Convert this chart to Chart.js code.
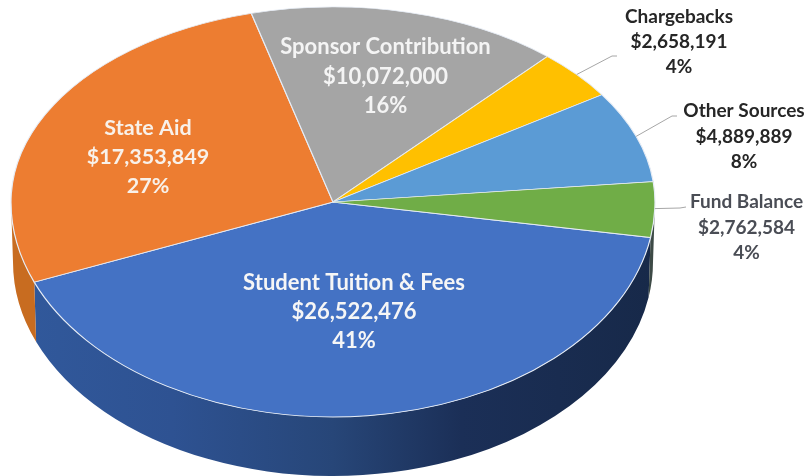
<!DOCTYPE html>
<html>
<head>
<meta charset="utf-8">
<title>Revenue sources</title>
<script src="https://cdn.jsdelivr.net/npm/chart.js@4"></script>
<style>
    html, body { margin: 0; padding: 0; background: #fff; overflow: hidden; }
    canvas { display: block; }
</style>
</head>
<body>
<canvas id="myChart" width="807" height="476"></canvas>
<script>
const categories = ["Student Tuition & Fees", "State Aid", "Sponsor Contribution", "Chargebacks", "Other Sources", "Fund Balance"];
const amounts = [26522476, 17353849, 10072000, 2658191, 4889889, 2762584];
const percentLabels = ["41%", "27%", "16%", "4%", "8%", "4%"];
const colors = ["#4472c4", "#ed7d31", "#a5a5a5", "#ffc000", "#5b9bd5", "#70ad47"];

// label layout: centre x, first line y, line gap, font px, colour, leader end
const labelLayout = [
    { x: 354, y: 283, gap: 29, size: 22, color: "#f6f6f6" },
    { x: 148, y: 128, gap: 29, size: 21.5, color: "#f8f1ea" },
    { x: 385.5, y: 47, gap: 29.5, size: 22, color: "#f4f4f4" },
    { x: 679, y: 17, gap: 25, size: 19, color: "#262626", leader: [[612, 56], [617, 56]] },
    { x: 744, y: 111, gap: 25.5, size: 19, color: "#262626", leader: [[672, 116], [677, 116]] },
    { x: 746.5, y: 202, gap: 25.5, size: 19, color: "#4a4d55", leader: [[680, 208], [686, 207]] },
];

// pie is drawn squashed: apex, radii of top half and bottom half, rim depth
const pie3d = { cx: 333, cy: 202, rx: 322, ryTop: 195, ryBottom: 215, depth: 60, rxLow: 320, ryLow: 214 };

function sideFill(ctx, index) {
    const g = ctx.createLinearGradient(pie3d.cx - pie3d.rx, 0, pie3d.cx + pie3d.rx, 0);
    if (index === 0) {
        g.addColorStop(0, "#31599c");
        g.addColorStop(0.25, "#2e5292");
        g.addColorStop(0.5, "#274678");
        g.addColorStop(0.7, "#1b2f57");
        g.addColorStop(1, "#172949");
        return g;
    }
    if (index === 1) return "#c86c20";
    return "#3d4a46";
}

const pie3dPlugin = {
    id: "pie3d",
    beforeDatasetsDraw(chart) {
        const ctx = chart.ctx;
        const arcs = chart.getDatasetMeta(0).data;
        const p = pie3d;

        // rim, only the part that faces the viewer
        arcs.forEach((arc, i) => {
            for (let k = -1; k <= 1; k++) {
                const a = Math.max(arc.startAngle + k * 2 * Math.PI, 0);
                const b = Math.min(arc.endAngle + k * 2 * Math.PI, Math.PI);
                if (b <= a) continue;
                ctx.beginPath();
                ctx.ellipse(p.cx, p.cy, p.rx, p.ryBottom, 0, a, b);
                ctx.ellipse(p.cx, p.cy + p.depth, p.rxLow, p.ryLow, 0, b, a, true);
                ctx.closePath();
                ctx.fillStyle = sideFill(ctx, i);
                ctx.fill();
            }
        });

        // top face, upper and lower half get a different squash
        [[0, p.cy, p.ryTop], [p.cy, 476 - p.cy, p.ryBottom]].forEach(([top, h, ry]) => {
            ctx.save();
            ctx.beginPath();
            ctx.rect(0, top, 807, h);
            ctx.clip();
            const first = arcs[0];
            ctx.translate(p.cx, p.cy);
            ctx.scale(p.rx / first.outerRadius, ry / first.outerRadius);
            ctx.translate(-first.x, -first.y);
            arcs.forEach((arc) => arc.draw(ctx));
            ctx.restore();
        });

        // leader lines and labels
        arcs.forEach((arc, i) => {
            const l = labelLayout[i];
            if (l.leader) {
                const mid = (arc.startAngle + arc.endAngle) / 2;
                const s = Math.sin(mid);
                ctx.beginPath();
                ctx.moveTo(p.cx + p.rx * Math.cos(mid), p.cy + (s < 0 ? p.ryTop : p.ryBottom) * s);
                l.leader.forEach((pt) => ctx.lineTo(pt[0], pt[1]));
                ctx.strokeStyle = "#a6a6a6";
                ctx.lineWidth = 1;
                ctx.stroke();
            }
            const lines = [categories[i], "$" + amounts[i].toLocaleString("en-US"), percentLabels[i]];
            ctx.font = "bold " + l.size + "px Lato";
            ctx.fillStyle = l.color;
            ctx.textAlign = "center";
            ctx.textBaseline = "middle";
            lines.forEach((t, n) => ctx.fillText(t, l.x, l.y + n * l.gap));
        });
        return false;
    },
};

new Chart(document.getElementById("myChart"), {
    type: "pie",
    data: {
        labels: categories,
        datasets: [
            {
                data: amounts,
                backgroundColor: colors,
                borderColor: "#e6ecf5",
                borderWidth: 0.9,
            },
        ],
    },
    options: {
        responsive: false,
        animation: false,
        rotation: 99.5,
        plugins: {
            legend: { display: false },
            tooltip: { enabled: false },
        },
    },
    plugins: [pie3dPlugin],
});
</script>
</body>
</html>
